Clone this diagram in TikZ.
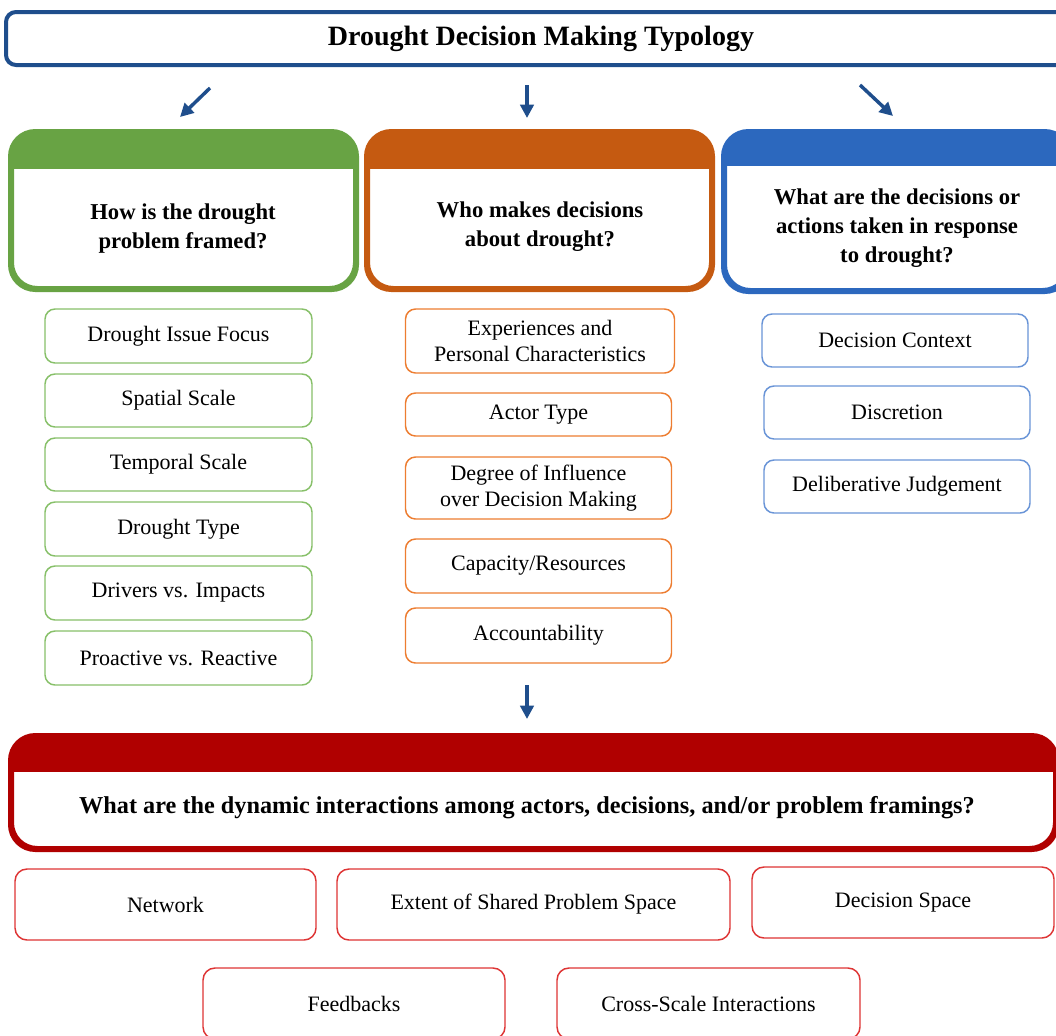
\documentclass[tikz,border=0pt]{standalone}
\usepackage{fontspec}
\setmainfont{Liberation Serif}
\usetikzlibrary{calc,arrows.meta}

\definecolor{navy}{RGB}{31,78,140}
\definecolor{hdgreen}{RGB}{104,163,68}
\definecolor{itgreen}{RGB}{135,192,105}
\definecolor{hdorange}{RGB}{197,90,17}
\definecolor{itorange}{RGB}{237,125,49}
\definecolor{hdblue}{RGB}{44,104,190}
\definecolor{itblue}{RGB}{105,148,215}
\definecolor{hdred}{RGB}{176,0,0}
\definecolor{itred}{RGB}{222,52,52}

\tikzset{
  sz/.style 2 args={minimum width=#1*0.75pt, minimum height=#2*0.75pt},
  itembox/.style={draw=#1, line width=1.1pt, rounded corners=7.5pt, fill=white, align=center, inner sep=0pt, font=\fontsize{16.5}{20}\selectfont},
  headbox/.style={draw=#1, line width=3pt, rounded corners=19pt, fill=white, inner sep=0pt},
  headtext/.style={align=center, font=\bfseries\fontsize{17}{21.75}\selectfont},
  arr/.style={-{Triangle[length=10pt,width=10pt]}, navy, line width=2.6pt},
}

\begin{document}
\begin{tikzpicture}[x=0.75pt,y=0.75pt,yscale=-1,xscale=1]
\useasboundingbox (0,0) rectangle (1056,1035);
\clip (0,0) rectangle (1056,1035);

% title
\node[draw=navy, line width=3pt, rounded corners=7.5pt, fill=white, sz={1070}{53}, font=\bfseries\fontsize{21}{25}\selectfont] (title) at (541,38.5) {Drought Decision Making Typology};

% three question boxes
\node[headbox=hdgreen, sz={343}{155}] (framing) at (183.5,210.5) {};
\node[headbox=hdorange, sz={343}{155}] (actors) at (539.5,210.5) {};
\node[headbox=hdblue, sz={343}{157}] (actions) at (896.5,211.5) {};
\node[headbox=hdred, sz={1043}{111}] (dynamics) at (533.5,792.5) {};

% coloured bands
\foreach \n/\c/\h in {framing/hdgreen/38, actors/hdorange/38, actions/hdblue/35, dynamics/hdred/37} {
  \begin{scope}
    \clip[rounded corners=19pt] (\n.north west) rectangle (\n.south east);
    \fill[\c] (\n.north west) rectangle ($(\n.north east)+(0,\h)$);
  \end{scope}
  \draw[\c, line width=3pt, rounded corners=19pt] (\n.north west) rectangle (\n.south east);
}

\node[headtext] (framingq) at (183,228.5) {How is the drought\\problem framed?};
\node[headtext] (actorsq) at (540,226.5) {Who makes decisions\\about drought?};
\node[headtext] (actionsq) at (897,228) {What are the decisions or\\actions taken in response\\to drought?};
\node[headtext, font=\bfseries\fontsize{18.2}{21}\selectfont] (dynamicsq) at (527,808) {What are the dynamic interactions among actors, decisions, and/or problem framings?};

% arrows from the title
\coordinate (a1s) at (210,88);  \coordinate (a1e) at (180,117);
\coordinate (a2s) at (527,85);  \coordinate (a2e) at (527,118);
\coordinate (a3s) at (860,85);  \coordinate (a3e) at (893,116);
\coordinate (a4s) at (527,685); \coordinate (a4e) at (527,719);
\draw[arr] (a1s) -- (a1e);
\draw[arr] (a2s) -- (a2e);
\draw[arr] (a3s) -- (a3e);
\draw[arr] (a4s) -- (a4e);

% framing items
\node[itembox=itgreen, sz={267}{54}] (g1) at (178.5,336) {Drought Issue Focus};
\node[itembox=itgreen, sz={267}{53}] (g2) at (178.5,400.5) {Spatial Scale};
\node[itembox=itgreen, sz={267}{53}] (g3) at (178.5,464.5) {Temporal Scale};
\node[itembox=itgreen, sz={267}{54}] (g4) at (178.5,529) {Drought Type};
\node[itembox=itgreen, sz={267}{54}] (g5) at (178.5,593) {Drivers vs. Impacts};
\node[itembox=itgreen, sz={267}{54}] (g6) at (178.5,658) {Proactive vs. Reactive};

% actor items
\node[itembox=itorange, sz={269}{64}] (o1) at (540,341) {Experiences and\\Personal Characteristics};
\node[itembox=itorange, sz={266}{43}] (o2) at (538.5,414.5) {Actor Type};
\node[itembox=itorange, sz={266}{62}] (o3) at (538.5,488) {Degree of Influence\\over Decision Making};
\node[itembox=itorange, sz={266}{54}] (o4) at (538.5,566) {Capacity/Resources};
\node[itembox=itorange, sz={266}{55}] (o5) at (538.5,635.5) {Accountability};

% action items
\node[itembox=itblue, sz={266}{53}] (b1) at (895,340.5) {Decision Context};
\node[itembox=itblue, sz={266}{53}] (b2) at (897,412.5) {Discretion};
\node[itembox=itblue, sz={266}{53}] (b3) at (897,486.5) {Deliberative Judgement};

% interaction items
\node[itembox=itred, rounded corners=9pt, sz={301}{71}] (r1) at (165.5,904.5) {Network};
\node[itembox=itred, rounded corners=9pt, sz={393}{71}] (r2) at (533.5,904.5) {Extent of Shared Problem Space};
\node[itembox=itred, rounded corners=9pt, sz={302}{71}] (r3) at (903,902.5) {Decision Space};
\node[itembox=itred, rounded corners=9pt, sz={302}{71}] (r4) at (354,1003.5) {Feedbacks};
\node[itembox=itred, rounded corners=9pt, sz={303}{71}] (r5) at (708.5,1003.5) {Cross-Scale Interactions};
\end{tikzpicture}
\end{document}
